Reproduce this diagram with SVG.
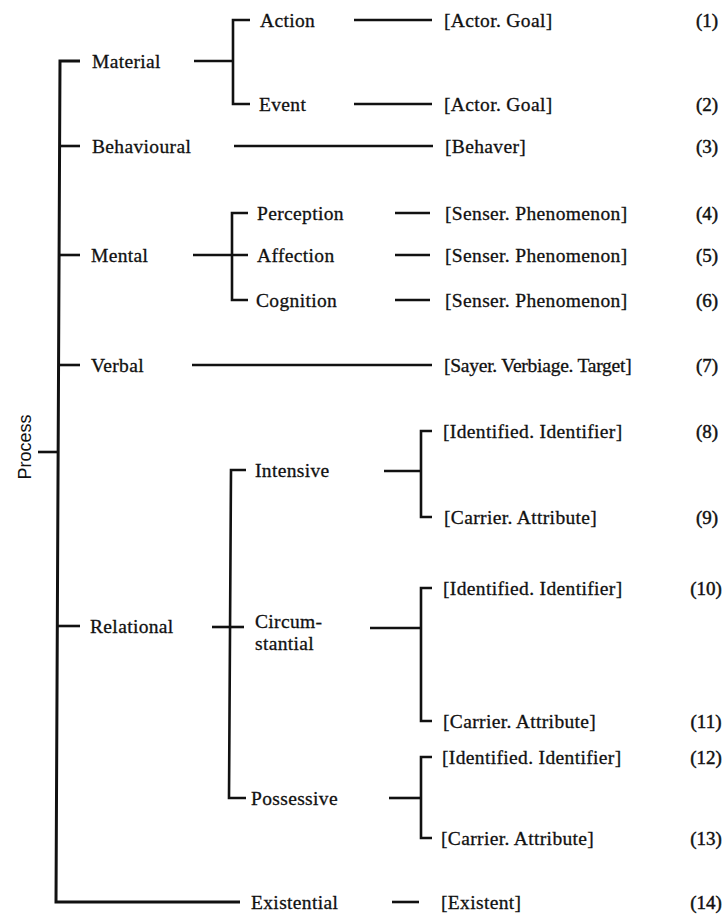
<svg xmlns="http://www.w3.org/2000/svg" width="724" height="915" viewBox="0 0 724 915">
  <style>
    .lbl { font-family: "Liberation Serif", "Times New Roman", serif; font-size: 19.5px; letter-spacing: 0.35px; fill: #111; stroke: #111; stroke-width: 0.3px; }
    .num { font-family: "Liberation Serif", "Times New Roman", serif; font-size: 19px; fill: #111; stroke: #111; stroke-width: 0.45px; text-anchor: middle; }
    .root { font-family: "Liberation Sans", Arial, sans-serif; font-size: 18px; fill: #111; text-anchor: middle; }
    .ln { stroke: #111; stroke-width: 2.6; fill: none; stroke-linecap: butt; stroke-linejoin: miter; }
    .main { stroke: #111; stroke-width: 3; fill: none; }
  </style>
  <rect width="724" height="915" fill="#fff"/>

  <!-- connectors: system network brackets and entry lines -->
  <g id="connectors">
    <!-- root bracket -->
    <line class="ln" x1="38" y1="452" x2="59" y2="452"/>
    <path class="main" d="M80 61 H60 L56 902 H240"/>
    <line class="ln" x1="60" y1="146" x2="80" y2="146"/>
    <line class="ln" x1="59" y1="255" x2="80" y2="255"/>
    <line class="ln" x1="58" y1="365" x2="80" y2="365"/>
    <line class="ln" x1="57" y1="626" x2="80" y2="626"/>

    <!-- material -->
    <line class="ln" x1="194" y1="61" x2="233" y2="61"/>
    <path class="ln" d="M250 20 H233 V104 H250"/>
    <line class="ln" x1="354" y1="20" x2="432" y2="20"/>
    <line class="ln" x1="354" y1="104" x2="432" y2="104"/>

    <!-- behavioural -->
    <line class="ln" x1="234" y1="146" x2="433" y2="146"/>

    <!-- mental -->
    <line class="ln" x1="193" y1="255" x2="248" y2="255"/>
    <path class="ln" d="M248 213 H232 V300 H248"/>
    <line class="ln" x1="395" y1="213" x2="430" y2="213"/>
    <line class="ln" x1="395" y1="255" x2="430" y2="255"/>
    <line class="ln" x1="395" y1="300" x2="430" y2="300"/>

    <!-- verbal -->
    <line class="ln" x1="192" y1="365" x2="432" y2="365"/>

    <!-- relational -->
    <line class="ln" x1="212" y1="627" x2="244" y2="627"/>
    <path class="ln" d="M246 470 H231 L229 798 H246"/>

    <!-- intensive -->
    <line class="ln" x1="384" y1="471" x2="421" y2="471"/>
    <path class="ln" d="M432 431 H421 V517 H432"/>

    <!-- circumstantial -->
    <line class="ln" x1="370" y1="628" x2="421" y2="628"/>
    <path class="ln" d="M432 588 H421 V721 H432"/>

    <!-- possessive -->
    <line class="ln" x1="389" y1="798" x2="421" y2="798"/>
    <path class="ln" d="M432 757 H421 V838 H432"/>

    <!-- existential -->
    <line class="ln" x1="392" y1="902" x2="419" y2="902"/>
  </g>

  <g id="process">
    <text class="root" transform="translate(31,447) rotate(-90)">Process</text>
  </g>

  <g id="material">
    <text class="lbl" x="92" y="67.5">Material</text>
  </g>
  <g id="action">
    <text class="lbl" x="260" y="26.5">Action</text>
    <text class="lbl" x="444" y="26.5">[Actor. Goal]</text>
    <text class="num" x="707" y="26.5">(1)</text>
  </g>
  <g id="event">
    <text class="lbl" x="259" y="110.5">Event</text>
    <text class="lbl" x="444" y="110.5">[Actor. Goal]</text>
    <text class="num" x="707" y="110.5">(2)</text>
  </g>

  <g id="behavioural">
    <text class="lbl" x="92" y="152.5">Behavioural</text>
    <text class="lbl" x="445" y="152.5">[Behaver]</text>
    <text class="num" x="707" y="152.5">(3)</text>
  </g>

  <g id="mental">
    <text class="lbl" x="91" y="261.5">Mental</text>
  </g>
  <g id="perception">
    <text class="lbl" x="257" y="219.5">Perception</text>
    <text class="lbl" x="445" y="219.5">[Senser. Phenomenon]</text>
    <text class="num" x="707" y="219.5">(4)</text>
  </g>
  <g id="affection">
    <text class="lbl" x="257" y="261.5">Affection</text>
    <text class="lbl" x="445" y="261.5">[Senser. Phenomenon]</text>
    <text class="num" x="707" y="261.5">(5)</text>
  </g>
  <g id="cognition">
    <text class="lbl" x="256" y="306.5">Cognition</text>
    <text class="lbl" x="445" y="306.5">[Senser. Phenomenon]</text>
    <text class="num" x="707" y="306.5">(6)</text>
  </g>

  <g id="verbal">
    <text class="lbl" x="91" y="371.5">Verbal</text>
    <text class="lbl" x="444" y="371.5" textLength="188" lengthAdjust="spacing">[Sayer. Verbiage. Target]</text>
    <text class="num" x="707" y="371.5">(7)</text>
  </g>

  <g id="relational">
    <text class="lbl" x="90" y="633">Relational</text>
  </g>
  <g id="intensive">
    <text class="lbl" x="255" y="477">Intensive</text>
  </g>
  <g id="intensive-identifying">
    <text class="lbl" x="443" y="437.5">[Identified. Identifier]</text>
    <text class="num" x="707" y="437.5">(8)</text>
  </g>
  <g id="intensive-attributive">
    <text class="lbl" x="444" y="523.5">[Carrier. Attribute]</text>
    <text class="num" x="707" y="523.5">(9)</text>
  </g>
  <g id="circumstantial">
    <text class="lbl" x="255" y="628">Circum-</text>
    <text class="lbl" x="255" y="650">stantial</text>
  </g>
  <g id="circumstantial-identifying">
    <text class="lbl" x="443" y="594.5">[Identified. Identifier]</text>
    <text class="num" x="706" y="594.5">(10)</text>
  </g>
  <g id="circumstantial-attributive">
    <text class="lbl" x="443" y="727.5">[Carrier. Attribute]</text>
    <text class="num" x="706" y="727.5">(11)</text>
  </g>
  <g id="possessive">
    <text class="lbl" x="251" y="804.5">Possessive</text>
  </g>
  <g id="possessive-identifying">
    <text class="lbl" x="442" y="763.5">[Identified. Identifier]</text>
    <text class="num" x="706" y="763.5">(12)</text>
  </g>
  <g id="possessive-attributive">
    <text class="lbl" x="441" y="844.5">[Carrier. Attribute]</text>
    <text class="num" x="706" y="844.5">(13)</text>
  </g>

  <g id="existential">
    <text class="lbl" x="251" y="908.5">Existential</text>
    <text class="lbl" x="441" y="908.5">[Existent]</text>
    <text class="num" x="706" y="908.5">(14)</text>
  </g>
</svg>
